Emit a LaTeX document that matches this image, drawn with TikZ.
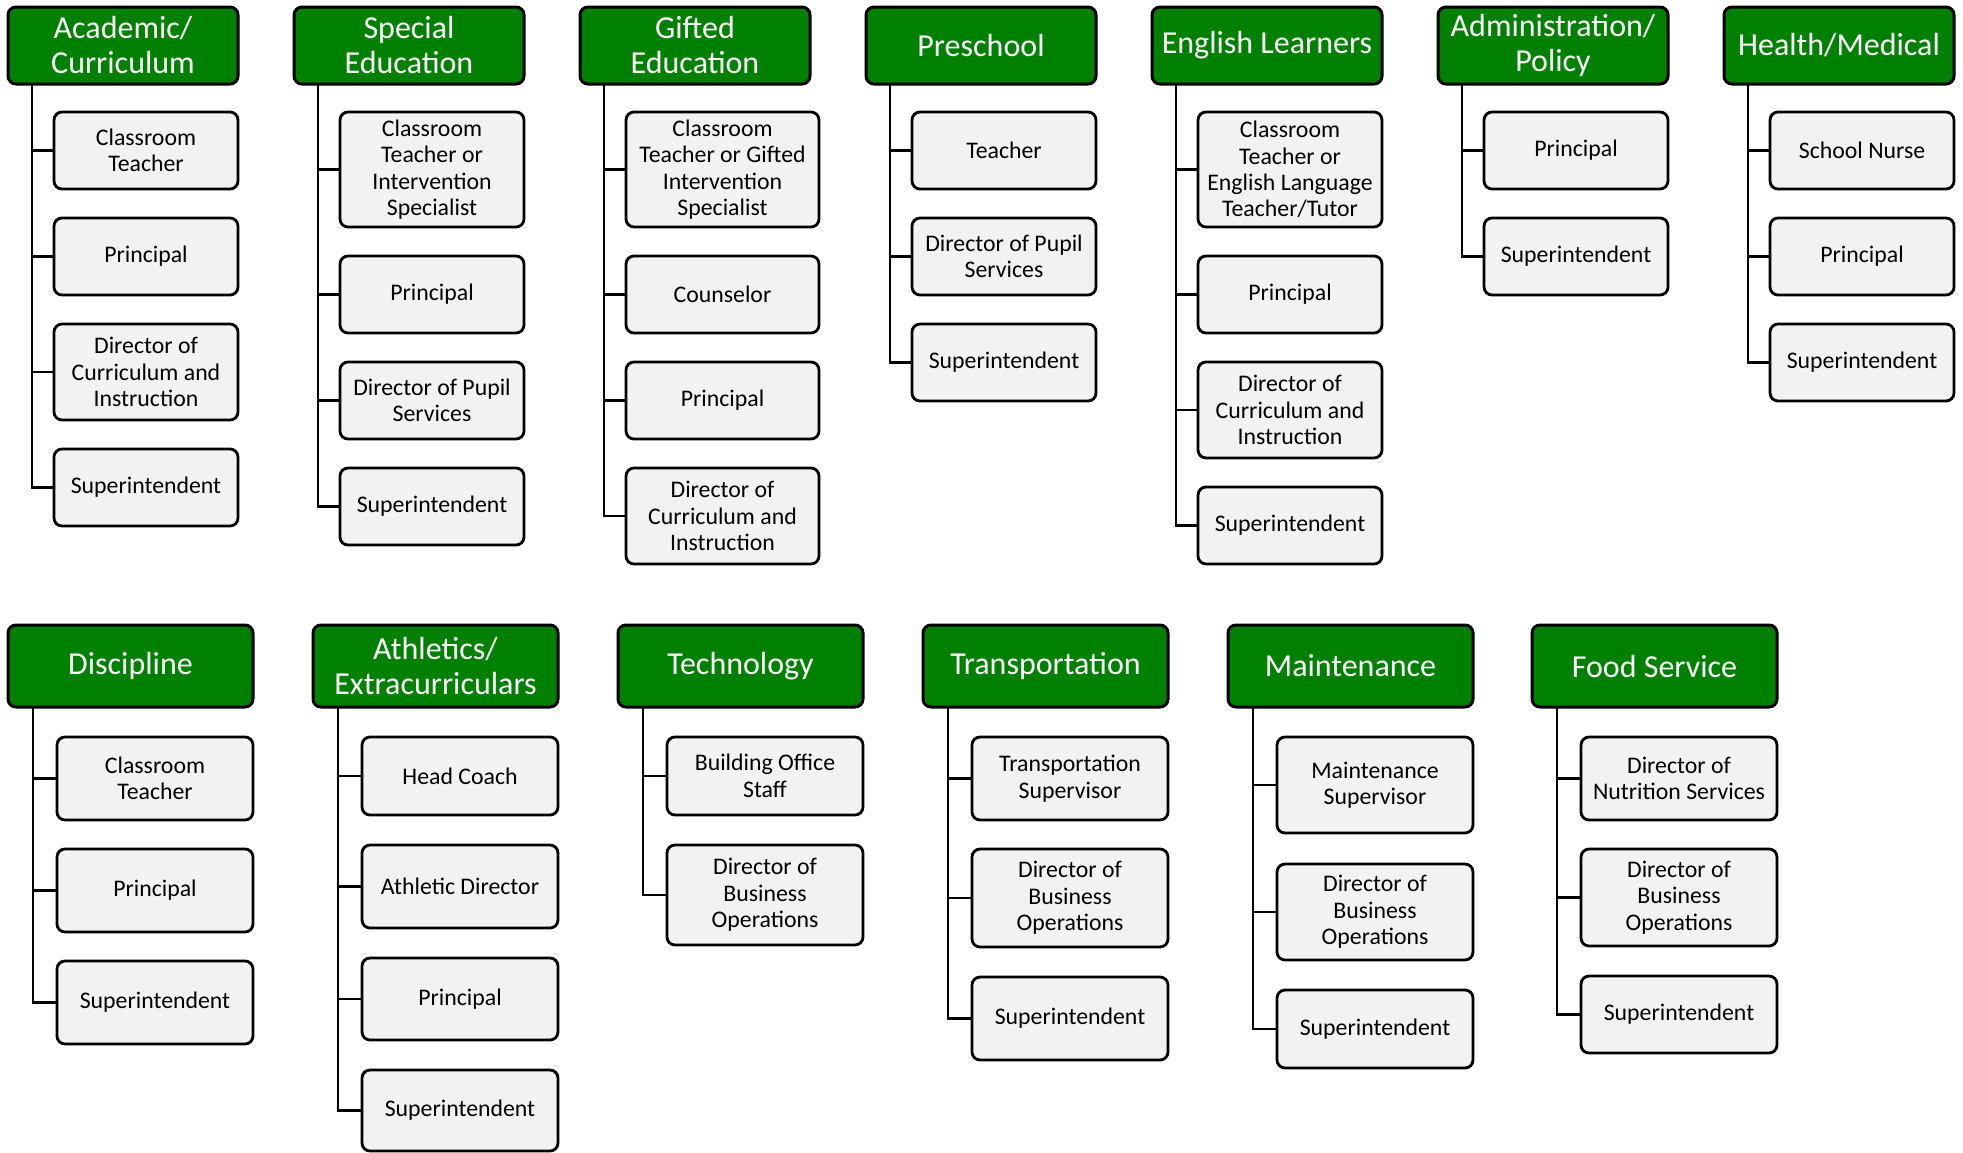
\documentclass[tikz,border=0pt]{standalone}
\usepackage{fontspec}
\setmainfont{Carlito}
\definecolor{hgreen}{HTML}{008000}
\definecolor{boxgray}{HTML}{F2F2F2}
\newcommand\rolefont{\fontsize{11.9}{13.2}\selectfont}
\newcommand\hdrfont{\fontsize{16}{17.5}\selectfont}
\begin{document}
\begin{tikzpicture}[x=0.5pt,y=-0.5pt,
  hdr/.style={draw=black, line width=1.5pt, fill=hgreen, rounded corners=4pt, text=white, font=\hdrfont, align=center, anchor=north west, inner sep=0pt, outer sep=0pt},
  hdrtop/.style={hdr, minimum width=115pt, minimum height=38.5pt},
  hdrbot/.style={hdr, minimum width=122.5pt, minimum height=41pt},
  role/.style={draw=black, line width=1.4pt, fill=boxgray, rounded corners=4pt, font=\rolefont, align=center, anchor=north west, inner sep=0pt, outer sep=0pt},
  rtop/.style={role, minimum width=92pt},
  rbot/.style={role, minimum width=98pt},
  conn/.style={draw=black, line width=1.4pt}
]
\useasboundingbox (0,0) rectangle (1963,1152);

% ---------------- top row headers
\node[hdrtop] (HA) at (8,7) {Academic/\\Curriculum};
\node[hdrtop] (HB) at (294,7) {Special\\Education};
\node[hdrtop] (HC) at (580,7) {Gifted\\Education};
\node[hdrtop] (HD) at (866,7) {Preschool};
\node[hdrtop] (HE) at (1152,7) {English Learners};
\node[hdrtop] (HF) at (1438,7) {Administration/\\Policy};
\node[hdrtop] (HG) at (1724,7) {Health/Medical};

% ---------------- top row children
\node[rtop, minimum height=38.5pt] (a1) at (54,112) {Classroom\\Teacher};
\node[rtop, minimum height=38.5pt] (a2) at (54,218) {Principal};
\node[rtop, minimum height=48pt] (a3) at (54,324) {Director of\\Curriculum and\\Instruction};
\node[rtop, minimum height=38.5pt] (a4) at (54,449) {Superintendent};

\node[rtop, minimum height=57.5pt] (b1) at (340,112) {Classroom\\Teacher or\\Intervention\\Specialist};
\node[rtop, minimum height=38.5pt] (b2) at (340,256) {Principal};
\node[rtop, minimum height=38.5pt] (b3) at (340,362) {Director of Pupil\\Services};
\node[rtop, minimum height=38.5pt] (b4) at (340,468) {Superintendent};

\node[role, minimum width=96.5pt, minimum height=57.5pt] (c1) at (626,112) {Classroom\\Teacher or Gifted\\Intervention\\Specialist};
\node[role, minimum width=96.5pt, minimum height=38.5pt] (c2) at (626,256) {Counselor};
\node[role, minimum width=96.5pt, minimum height=38.5pt] (c3) at (626,362) {Principal};
\node[role, minimum width=96.5pt, minimum height=48pt] (c4) at (626,468) {Director of\\Curriculum and\\Instruction};

\node[rtop, minimum height=38.5pt] (d1) at (912,112) {Teacher};
\node[rtop, minimum height=38.5pt] (d2) at (912,218) {Director of Pupil\\Services};
\node[rtop, minimum height=38.5pt] (d3) at (912,324) {Superintendent};

\node[rtop, minimum height=57.5pt] (e1) at (1198,112) {Classroom\\Teacher or\\English Language\\Teacher/Tutor};
\node[rtop, minimum height=38.5pt] (e2) at (1198,256) {Principal};
\node[rtop, minimum height=48pt] (e3) at (1198,362) {Director of\\Curriculum and\\Instruction};
\node[rtop, minimum height=38.5pt] (e4) at (1198,487) {Superintendent};

\node[rtop, minimum height=38.5pt] (f1) at (1484,112) {Principal};
\node[rtop, minimum height=38.5pt] (f2) at (1484,218) {Superintendent};

\node[rtop, minimum height=38.5pt] (g1) at (1770,112) {School Nurse};
\node[rtop, minimum height=38.5pt] (g2) at (1770,218) {Principal};
\node[rtop, minimum height=38.5pt] (g3) at (1770,324) {Superintendent};

% ---------------- bottom row headers
\node[hdrbot] (HH) at (8,625) {Discipline};
\node[hdrbot] (HI) at (313,625) {Athletics/\\Extracurriculars};
\node[hdrbot] (HJ) at (618,625) {Technology};
\node[hdrbot] (HK) at (923,625) {Transportation};
\node[hdrbot] (HL) at (1228,625) {Maintenance};
\node[hdrbot] (HM) at (1532,625) {Food Service};

% ---------------- bottom row children
\node[rbot, minimum height=41.5pt] (h1) at (57,737) {Classroom\\Teacher};
\node[rbot, minimum height=41.5pt] (h2) at (57,849) {Principal};
\node[rbot, minimum height=41.5pt] (h3) at (57,961) {Superintendent};

\node[rbot, minimum height=39pt] (i1) at (362,737) {Head Coach};
\node[rbot, minimum height=41.5pt] (i2) at (362,845) {Athletic Director};
\node[rbot, minimum height=41pt] (i3) at (362,958) {Principal};
\node[rbot, minimum height=40.5pt] (i4) at (362,1070) {Superintendent};

\node[rbot, minimum height=39pt] (j1) at (667,737) {Building Office\\Staff};
\node[rbot, minimum height=50pt] (j2) at (667,845) {Director of\\Business\\Operations};

\node[rbot, minimum height=41.5pt] (k1) at (972,737) {Transportation\\Supervisor};
\node[rbot, minimum height=49pt] (k2) at (972,849) {Director of\\Business\\Operations};
\node[rbot, minimum height=41.5pt] (k3) at (972,977) {Superintendent};

\node[rbot, minimum height=48pt] (l1) at (1277,737) {Maintenance\\Supervisor};
\node[rbot, minimum height=48pt] (l2) at (1277,864) {Director of\\Business\\Operations};
\node[rbot, minimum height=39pt] (l3) at (1277,990) {Superintendent};

\node[rbot, minimum height=41.5pt] (m1) at (1581,737) {Director of\\Nutrition Services};
\node[rbot, minimum height=48.5pt] (m2) at (1581,849) {Director of\\Business\\Operations};
\node[rbot, minimum height=38.5pt] (m3) at (1581,976) {Superintendent};

% ---------------- trunks (top)
\coordinate (tA) at ([xshift=12pt]HA.south west);
\coordinate (tB) at ([xshift=12pt]HB.south west);
\coordinate (tC) at ([xshift=12pt]HC.south west);
\coordinate (tD) at ([xshift=12pt]HD.south west);
\coordinate (tE) at ([xshift=12pt]HE.south west);
\coordinate (tF) at ([xshift=12pt]HF.south west);
\coordinate (tG) at ([xshift=12pt]HG.south west);
% trunks (bottom)
\coordinate (tH) at ([xshift=12.5pt]HH.south west);
\coordinate (tI) at ([xshift=12.5pt]HI.south west);
\coordinate (tJ) at ([xshift=12.5pt]HJ.south west);
\coordinate (tK) at ([xshift=12.5pt]HK.south west);
\coordinate (tL) at ([xshift=12.5pt]HL.south west);
\coordinate (tM) at ([xshift=12.5pt]HM.south west);

\begin{scope}[conn]
\draw (tA) |- (a4.west);
\foreach \n in {a1,a2,a3} \draw (\n.west -| tA) -- (\n.west);
\draw (tB) |- (b4.west);
\foreach \n in {b1,b2,b3} \draw (\n.west -| tB) -- (\n.west);
\draw (tC) |- (c4.west);
\foreach \n in {c1,c2,c3} \draw (\n.west -| tC) -- (\n.west);
\draw (tD) |- (d3.west);
\foreach \n in {d1,d2} \draw (\n.west -| tD) -- (\n.west);
\draw (tE) |- (e4.west);
\foreach \n in {e1,e2,e3} \draw (\n.west -| tE) -- (\n.west);
\draw (tF) |- (f2.west);
\foreach \n in {f1} \draw (\n.west -| tF) -- (\n.west);
\draw (tG) |- (g3.west);
\foreach \n in {g1,g2} \draw (\n.west -| tG) -- (\n.west);

\draw (tH) |- (h3.west);
\foreach \n in {h1,h2} \draw (\n.west -| tH) -- (\n.west);
\draw (tI) |- (i4.west);
\foreach \n in {i1,i2,i3} \draw (\n.west -| tI) -- (\n.west);
\draw (tJ) |- (j2.west);
\foreach \n in {j1} \draw (\n.west -| tJ) -- (\n.west);
\draw (tK) |- (k3.west);
\foreach \n in {k1,k2} \draw (\n.west -| tK) -- (\n.west);
\draw (tL) |- (l3.west);
\foreach \n in {l1,l2} \draw (\n.west -| tL) -- (\n.west);
\draw (tM) |- (m3.west);
\foreach \n in {m1,m2} \draw (\n.west -| tM) -- (\n.west);
\end{scope}
\end{tikzpicture}
\end{document}
